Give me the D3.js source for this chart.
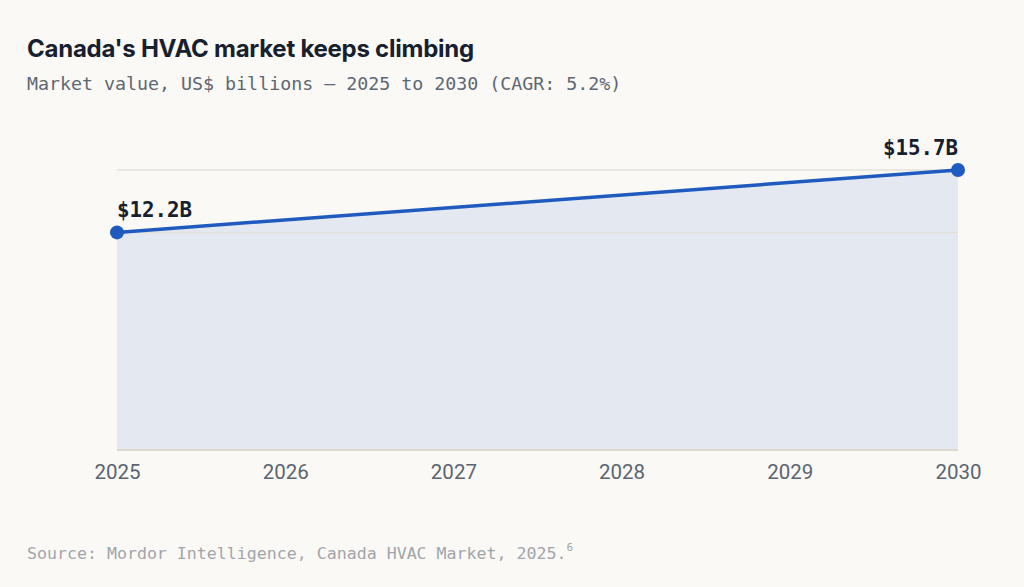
<!DOCTYPE html>
<html>
<head>
<meta charset="utf-8">
<script src="https://cdn.jsdelivr.net/npm/d3@7"></script>
<style>
	body { margin: 0; background: #faf9f5; }
	svg { display: block; }
	.title { font-family: Inter, sans-serif; font-weight: 700; font-size: 24px; fill: #16202e; letter-spacing: -0.25px; }
	.subtitle { font-family: 'DejaVu Sans Mono', monospace; font-size: 18.3px; fill: #5d6773; }
	.value-label { font-family: 'DejaVu Sans Mono', monospace; font-weight: 700; font-size: 20.8px; fill: #16202e; }
	.x-axis text { font-family: Roboto, sans-serif; font-size: 20.5px; fill: #5a6571; }
	.source { font-family: 'DejaVu Sans Mono', monospace; font-size: 16.6px; fill: #a1a5aa; }
</style>
</head>
<body>
<div id="chart"></div>
<script>
// data
const years = [2025, 2030];
const values = [12.2, 15.7];
const tickYears = [2025, 2026, 2027, 2028, 2029, 2030];

const width = 1024;
const height = 587;
const margin = { top: 170, right: 66, bottom: 137, left: 117 };

const data = years.map((yr, i) => ({ year: yr, value: values[i] }));

const svg = d3.select('#chart').append('svg')
	.attr('width', width)
	.attr('height', height);

svg.append('rect')
	.attr('width', width)
	.attr('height', height)
	.attr('fill', '#faf9f5');

// titles
svg.append('text')
	.attr('class', 'title')
	.attr('x', 27)
	.attr('y', 57)
	.text("Canada's HVAC market keeps climbing");

svg.append('text')
	.attr('class', 'subtitle')
	.attr('x', 27)
	.attr('y', 90)
	.text('Market value, US$ billions \u2014 2025 to 2030 (CAGR: 5.2%)');

const x = d3.scaleLinear()
	.domain(d3.extent(tickYears))
	.range([margin.left, width - margin.right]);

const y = d3.scaleLinear()
	.domain([0, d3.max(values)])
	.range([height - margin.bottom, margin.top]);

// area under the line
const area = d3.area()
	.x(d => x(d.year))
	.y0(y(0))
	.y1(d => y(d.value));

svg.append('path')
	.datum(data)
	.attr('d', area)
	.attr('fill', '#e4e9f1');

// gridlines at the two values
svg.append('g')
	.selectAll('line')
	.data(values)
	.enter().append('line')
		.attr('x1', x.range()[0])
		.attr('x2', x.range()[1])
		.attr('y1', d => y(d))
		.attr('y2', d => y(d))
		.attr('stroke', '#e2e1d8')
		.attr('stroke-width', 1.5);

// baseline
svg.append('line')
	.attr('x1', x.range()[0])
	.attr('x2', x.range()[1])
	.attr('y1', y(0))
	.attr('y2', y(0))
	.attr('stroke', '#dcdad0')
	.attr('stroke-width', 2);

// x axis
svg.append('g')
	.attr('class', 'x-axis')
	.attr('transform', `translate(0, ${y(0)})`)
	.call(d3.axisBottom(x)
		.tickValues(tickYears)
		.tickFormat(d3.format('d'))
		.tickSize(0)
		.tickPadding(14))
	.call(g => g.select('.domain').remove());

// the line
const line = d3.line()
	.x(d => x(d.year))
	.y(d => y(d.value));

svg.append('path')
	.datum(data)
	.attr('d', line)
	.attr('fill', 'none')
	.attr('stroke', '#1f5bbf')
	.attr('stroke-width', 3.5);

svg.append('g')
	.selectAll('circle')
	.data(data)
	.enter().append('circle')
		.attr('cx', d => x(d.year))
		.attr('cy', d => y(d.value))
		.attr('r', 7)
		.attr('fill', '#1f5bbf');

// value labels
svg.append('g')
	.selectAll('text')
	.data(data)
	.enter().append('text')
		.attr('class', 'value-label')
		.attr('x', d => x(d.year))
		.attr('y', d => y(d.value) - 15)
		.attr('text-anchor', (d, i) => i === 0 ? 'start' : 'end')
		.text(d => `$${d.value.toFixed(1)}B`);

// source
const src = svg.append('text')
	.attr('class', 'source')
	.attr('x', 27)
	.attr('y', 559)
	.text('Source: Mordor Intelligence, Canada HVAC Market, 2025.');
src.append('tspan')
	.attr('dy', -8)
	.attr('font-size', 11)
	.text('6');
</script>
</body>
</html>
